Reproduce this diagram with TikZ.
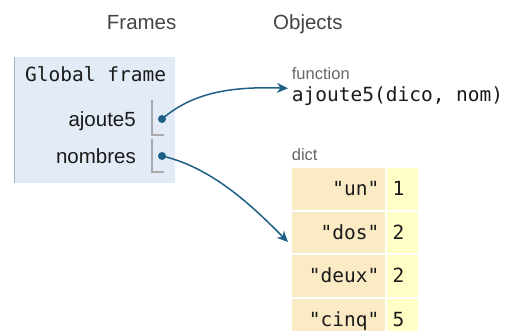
\documentclass[tikz,border=0pt]{standalone}
\usepackage{fontspec}
\setmainfont{Liberation Sans}
\setmonofont{DejaVu Sans Mono}
\usetikzlibrary{arrows.meta}
\definecolor{framebg}{HTML}{E2EBF6}
\definecolor{frameborder}{HTML}{A6B3B6}
\definecolor{keybg}{HTML}{FAEBC4}
\definecolor{valbg}{HTML}{FFFFC6}
\definecolor{ptrblue}{HTML}{1E5F85}
\definecolor{hdrgray}{HTML}{444444}
\definecolor{lblgray}{HTML}{666666}
\definecolor{txtdark}{HTML}{1A1A1A}
\definecolor{slotgray}{HTML}{AAAAAA}
\tikzset{
  hdr/.style={inner sep=0pt, text=hdrgray, font=\fontsize{20.5}{22}\selectfont},
  mono/.style={inner sep=0pt, text=txtdark, font=\ttfamily\fontsize{19.5}{21}\selectfont},
  varname/.style={inner sep=0pt, text=txtdark, font=\fontsize{20.5}{22}\selectfont},
  typelbl/.style={inner sep=0pt, text=lblgray, font=\fontsize{16.5}{18}\selectfont},
  dot/.style={circle, fill=ptrblue, inner sep=0pt, minimum size=8pt},
  ptr/.style={draw=ptrblue, line width=1.5pt, -{Stealth[length=11pt, width=10pt, inset=3.5pt]}},
  slot/.style={draw=slotgray, line width=1.5pt},
  keycell/.style={fill=keybg},
  valcell/.style={fill=valbg}
}
\begin{document}
\begin{tikzpicture}[x=1pt,y=-1pt]
\useasboundingbox (0,0) rectangle (509,331);
% headers
\node[hdr, anchor=base west] (hframes) at (106.7,30) {Frames};
\node[hdr, anchor=base west] (hobj) at (273,30) {Objects};
% frame
\fill[framebg] (14,57) rectangle (175,183);
\draw[frameborder, line width=1.3pt] (14.6,57) -- (14.6,183);
\node[mono, anchor=base west] (gf) at (25,82) {Global frame};
\node[varname, anchor=base east] (v1) at (136,126.7) {ajoute5};
\node[varname, anchor=base east] (v2) at (136,163.3) {nombres};
\draw[slot] (152,100.5) -- (152,135) -- (163.5,135);
\draw[slot] (152,139) -- (152,172) -- (163.5,172);
\node[dot] (d1) at (162,119) {};
\node[dot] (d2) at (162,156) {};
% function object
\node[typelbl, anchor=base west] (flbl) at (291.7,80) {function};
\node[mono, anchor=base west] (fn) at (291.7,102) {ajoute5(dico, nom)};
\coordinate (a1) at (288,88.3);
% dict object
\node[typelbl, anchor=base west] (dlbl) at (291.7,160.5) {dict};
\foreach \i/\k/\v in {0/"un"/1, 1/"dos"/2, 2/"deux"/2, 3/"cinq"/5} {
  \fill[keycell] (291.7,168.3+43.6*\i) rectangle (385,209.8+43.6*\i);
  \fill[valcell] (386.7,168.3+43.6*\i) rectangle (418.3,209.8+43.6*\i);
  \node[mono, anchor=base east] (k\i) at (379.5,195.7+43.6*\i) {\k};
  \node[mono, anchor=base west] (v\i) at (392.5,195.7+43.6*\i) {\v};
}
\coordinate (a2) at (288,242);
% pointers
\draw[ptr] (d1.center) .. controls (190,95) and (225,86) .. (a1);
\draw[ptr] (d2.center) .. controls (215,168) and (258,212) .. (a2);
\end{tikzpicture}
\end{document}
